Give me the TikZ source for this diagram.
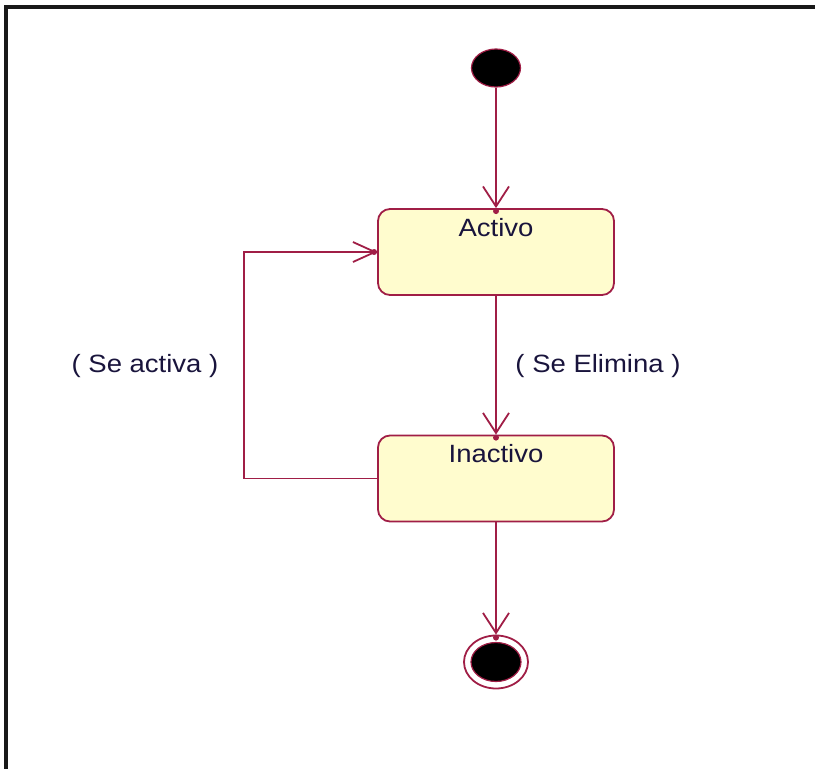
\documentclass[tikz,border=0pt]{standalone}
\usepackage{fontspec}
\setmainfont{Liberation Sans}
\usetikzlibrary{shapes.geometric,arrows.meta}
\definecolor{umlline}{RGB}{160,30,70}
\definecolor{umlfill}{RGB}{255,252,206}
\definecolor{umltext}{RGB}{25,20,60}
\newcommand{\umltxt}[1]{\scalebox{1.1}[1]{\fontsize{25}{29}\selectfont #1}}
\tikzset{
  frameline/.style={line width=4pt, black!90},
  statebox/.style={rectangle, rounded corners=12pt, draw=umlline, fill=umlfill, line width=1.8pt, minimum width=236pt, minimum height=86pt, inner sep=0pt},
  txt/.style={text=umltext, inner sep=0pt},
  startdot/.style={ellipse, draw=umlline, fill=black, line width=1.2pt, minimum width=49pt, minimum height=38pt, inner sep=0pt},
  endring/.style={ellipse, draw=umlline, line width=1.8pt, minimum width=64pt, minimum height=53pt, inner sep=0pt},
  enddot/.style={ellipse, draw=umlline, fill=black, line width=1.2pt, minimum width=50pt, minimum height=39pt, inner sep=0pt},
  vflow/.style={draw=umlline, line width=1.8pt, -{Straight Barb[length=20pt,width=26pt,line width=1.8pt]}},
  hflow/.style={draw=umlline, line width=1.8pt, -{Straight Barb[length=22pt,width=20pt,line width=1.8pt]}},
  tipdot/.style={fill=umlline},
}
\begin{document}
\begin{tikzpicture}[x=1pt,y=-1pt]
\useasboundingbox (0,0) rectangle (815,769);
% frame
\coordinate (fTL) at (6,7);
\coordinate (fTR) at (815,7);
\coordinate (fBL) at (6,769);
\draw[frameline] (fTR) -- (fTL) -- (fBL);
% states
\node[startdot] (init) at (496,68) {};
\node[statebox] (activo) at (496,252) {};
\node[txt] (activoLbl) at (496,228) {\umltxt{Activo}};
\node[statebox] (inactivo) at (496,478.5) {};
\node[txt] (inactivoLbl) at (496,454) {\umltxt{Inactivo}};
\node[endring] (final) at (496,662) {};
\node[enddot] (finalDot) at (496,662) {};
% transitions
\draw[vflow] (init) -- (activo);
\draw[vflow] (activo) -- (inactivo);
\draw[vflow] (inactivo) -- (final);
\coordinate (loopTurn) at (244,478.5);
\draw[hflow] (inactivo.west) -- (loopTurn) |- (activo.west);
% tip dots
\fill[tipdot] ([yshift=-3pt]activo.north) circle (3pt);
\fill[tipdot] ([yshift=-3pt]inactivo.north) circle (3pt);
\fill[tipdot] ([yshift=-3pt]final.north) circle (3pt);
\fill[tipdot] ([xshift=-3pt]activo.west) circle (3pt);
% labels
\node[txt] (lblElim) at (598,366) {\umltxt{( Se Elimina )}};
\node[txt] (lblAct) at (145,366) {\umltxt{( Se activa )}};
\end{tikzpicture}
\end{document}
